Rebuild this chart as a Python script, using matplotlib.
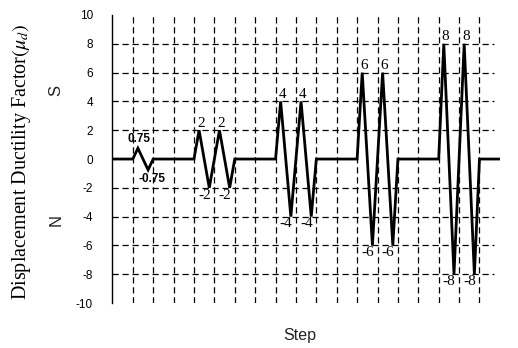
import matplotlib
matplotlib.use("Agg")
import matplotlib.pyplot as plt

plt.rcParams["mathtext.fontset"] = "stix"

# ---- data ----
step = [0, 1, 1.25, 1.75, 2,
        4, 4.25, 4.75, 5.25, 5.75, 6,
        8, 8.25, 8.75, 9.25, 9.75, 10,
        12, 12.25, 12.75, 13.25, 13.75, 14,
        16, 16.25, 16.75, 17.25, 17.75, 18, 19]
factor = [0, 0, 0.75, -0.75, 0,
          0, 2, -2, 2, -2, 0,
          0, 4, -4, 4, -4, 0,
          0, 6, -6, 6, -6, 0,
          0, 8, -8, 8, -8, 0, 0]
peak_steps = [1.25, 4.25, 5.25, 8.25, 9.25, 12.25, 13.25, 16.25, 17.25]
peak_vals = [0.75, 2, 2, 4, 4, 6, 6, 8, 8]
peak_labels = ["0.75", "2", "2", "4", "4", "6", "6", "8", "8"]
trough_steps = [1.75, 4.75, 5.75, 8.75, 9.75, 12.75, 13.75, 16.75, 17.75]
trough_vals = [-0.75, -2, -2, -4, -4, -6, -6, -8, -8]
trough_labels = ["-0.75", "-2", "-2", "-4", "-4", "-6", "-6", "-8", "-8"]
yticks = [-10, -8, -6, -4, -2, 0, 2, 4, 6, 8, 10]
ytick_labels = ["-10", "-8", "-6", "-4", "-2", "0", "2", "4", "6", "8", "10"]
xgrid = list(range(1, 19))
ygrid = [-8, -6, -4, -2, 2, 4, 6, 8]

fig = plt.figure(figsize=(5.18, 3.48), dpi=100)
ax = fig.add_axes([0.217, 0.129, 0.748, 0.828])
ax.set_xlim(0, 19)
ax.set_ylim(-10, 10)

dash = (0, (5, 3))
for g in xgrid:
    ax.axvline(g, color="black", lw=0.9, linestyle=dash, zorder=1)
for g in ygrid:
    ax.plot([0, 18.7], [g, g], color="black", lw=0.9, linestyle=dash, zorder=1)

ax.plot(step, factor, color="black", lw=2.0, zorder=3, solid_joinstyle="miter")

serif = "Liberation Serif"
for x, y, t in zip(peak_steps, peak_vals, peak_labels):
    if t == "0.75":
        ax.text(x + 0.05, y + 0.2, t, ha="center", va="bottom", fontsize=8.5,
                fontweight="bold", family="Liberation Sans")
    else:
        ax.text(x + 0.08, y + 0.05, t, ha="center", va="bottom", fontsize=11,
                family=serif)
for x, y, t in zip(trough_steps, trough_vals, trough_labels):
    if t == "-0.75":
        ax.text(x + 0.2, y - 0.2, t, ha="center", va="top", fontsize=8.5,
                fontweight="bold", family="Liberation Sans")
    else:
        ax.text(x + 0.08, y - 0.05, t, ha="right", va="top", fontsize=11,
                family=serif)

for s in ["top", "right", "bottom"]:
    ax.spines[s].set_visible(False)
ax.spines["left"].set_linewidth(1.0)
ax.set_xticks([])
ax.set_yticks(yticks)
ax.set_yticklabels(ytick_labels, family="Liberation Sans", fontsize=8.5)
ax.tick_params(axis="y", length=0, pad=14)

fig.text(0.042, 0.535, r"Displacement Ductility Factor$(\mu_d)$", rotation=90,
         ha="center", va="center", fontsize=14.5, family=serif)
fig.text(0.108, 0.74, "S", rotation=90, ha="center", va="center",
         fontsize=12, family="Liberation Sans", color="#222222")
fig.text(0.108, 0.368, "N", rotation=90, ha="center", va="center",
         fontsize=12, family="Liberation Sans", color="#222222")
fig.text(0.578, 0.037, "Step", ha="center", va="center",
         fontsize=11.5, family="Liberation Sans", color="#222222")

fig.savefig("out.png", dpi=100)
